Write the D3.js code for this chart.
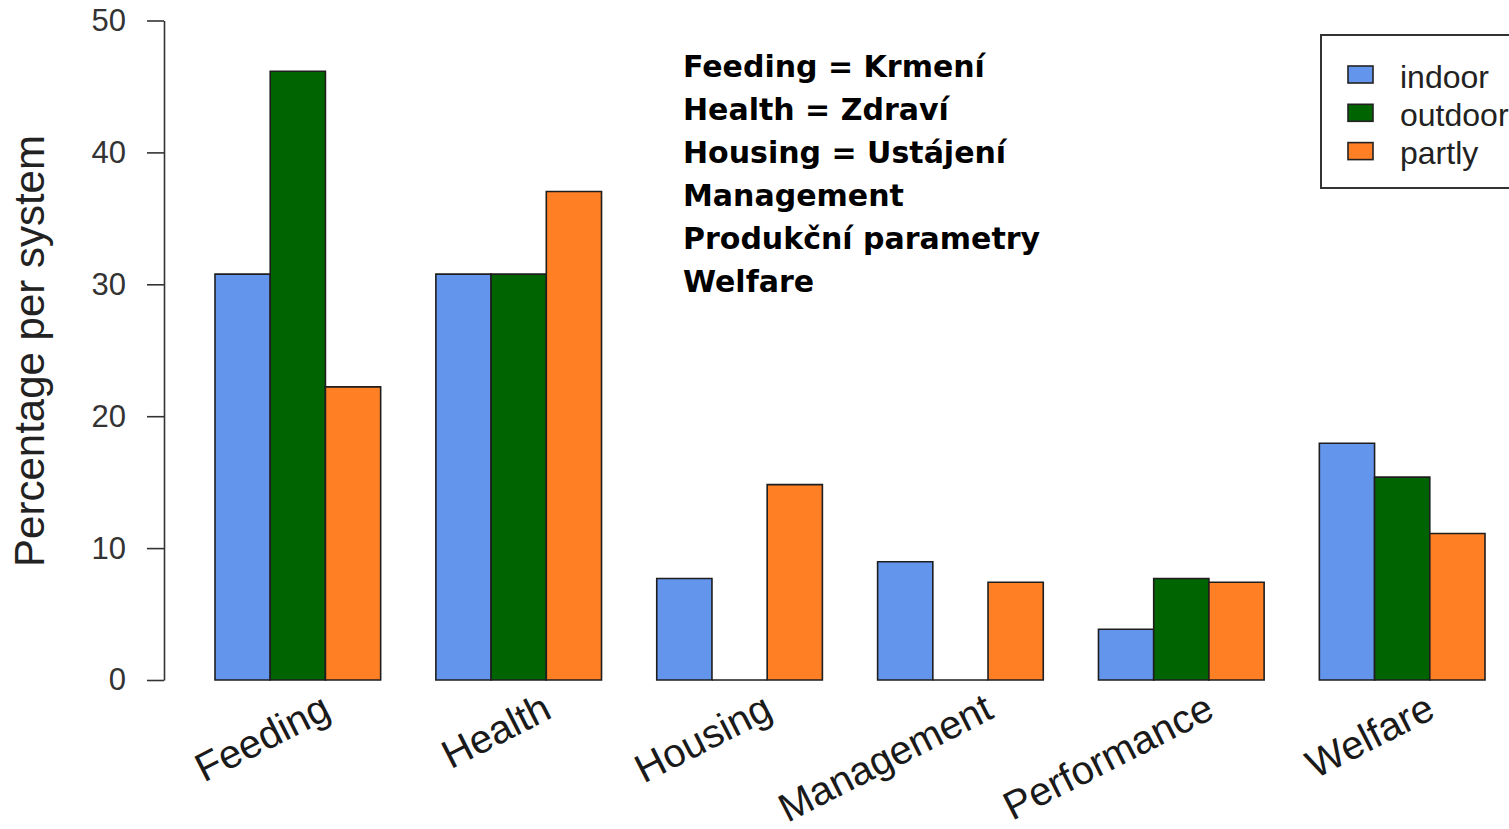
<!DOCTYPE html>
<html>
<head>
<meta charset="utf-8">
<script src="https://cdn.jsdelivr.net/npm/d3@7"></script>
<style>
  html, body { margin: 0; padding: 0; background: #fff; overflow: hidden; }
  svg { display: block; }
</style>
</head>
<body>
<svg id="chart" width="1509" height="829"></svg>
<script>
// ---- data ----
const categories = ["Feeding", "Health", "Housing", "Management", "Performance", "Welfare"];
const seriesNames = ["indoor", "outdoor", "partly"];
const indoor  = [30.77, 30.77, 7.69, 8.97, 3.85, 17.95];
const outdoor = [46.15, 30.77, 0,    0,    7.69, 15.38];
const partly  = [22.22, 37.04, 14.81, 7.41, 7.41, 11.11];
const yTicks = [0, 10, 20, 30, 40, 50];
const yTitle = "Percentage per system";
const noteLines = [
  "Feeding = Krmení",
  "Health = Zdraví",
  "Housing = Ustájení",
  "Management",
  "Produkční parametry",
  "Welfare"
];
const colors = { indoor: "#6495ED", outdoor: "#006400", partly: "#FF7F24" };

// ---- layout ----
const svg = d3.select("#chart");
const seriesValues = { indoor, outdoor, partly };

const x = d3.scaleBand().domain(categories).range([215, 1485]).paddingInner(0.25).paddingOuter(0);
const xs = d3.scaleBand().domain(seriesNames).range([0, x.bandwidth()]).padding(0);
const y = d3.scaleLinear().domain([0, 50]).range([680, 20.5]);

// bars (paths so that zero-height bars still show their outline)
const barData = [];
categories.forEach((c, i) => {
  seriesNames.forEach(s => barData.push({ cat: c, series: s, value: seriesValues[s][i] }));
});
svg.append("g").selectAll("path").data(barData).join("path")
  .attr("d", d => {
    const x0 = x(d.cat) + xs(d.series), x1 = x0 + xs.bandwidth();
    const y0 = y(0), y1 = y(d.value);
    return `M${x0},${y0}V${y1}H${x1}V${y0}Z`;
  })
  .attr("fill", d => colors[d.series])
  .attr("stroke", "#1e1e1e")
  .attr("stroke-width", 1.6);

// y axis
const yAxis = svg.append("g")
  .attr("transform", "translate(164,0)")
  .call(d3.axisLeft(y).tickValues(yTicks).tickSize(17).tickSizeOuter(0).tickPadding(21));
yAxis.select(".domain").attr("stroke", "#333").attr("stroke-width", 1.6);
yAxis.selectAll(".tick line").attr("stroke", "#333").attr("stroke-width", 1.6);
yAxis.selectAll(".tick text")
  .attr("fill", "#333")
  .style("font-family", "'Liberation Sans', Arial, sans-serif")
  .style("font-size", "31px");

// y title
svg.append("text")
  .attr("transform", "translate(44,351) rotate(-90)")
  .attr("text-anchor", "middle")
  .attr("fill", "#222")
  .style("font-family", "'Liberation Sans', Arial, sans-serif")
  .style("font-size", "42px")
  .text(yTitle);

// x category labels (rotated)
svg.append("g").selectAll("text").data(categories).join("text")
  .attr("transform", d => `translate(${x(d) + x.bandwidth() / 2 + 35},717) rotate(-27)`)
  .attr("text-anchor", "end")
  .attr("fill", "#1a1a1a")
  .style("font-family", "'Liberation Sans', Arial, sans-serif")
  .style("font-size", "40px")
  .text(d => d);

// legend
const lg = svg.append("g");
lg.append("rect")
  .attr("x", 1321).attr("y", 35).attr("width", 220).attr("height", 153)
  .attr("fill", "#fff").attr("stroke", "#333").attr("stroke-width", 2);
const rows = lg.selectAll("g.row").data(seriesNames).join("g").attr("class", "row")
  .attr("transform", (d, i) => `translate(0,${74.5 + i * 38.3})`);
rows.append("rect")
  .attr("x", 1348).attr("y", -8.5).attr("width", 25).attr("height", 17)
  .attr("fill", d => colors[d]).attr("stroke", "#222").attr("stroke-width", 1.6);
rows.append("text")
  .attr("x", 1400).attr("y", 13)
  .attr("fill", "#222")
  .style("font-family", "'Liberation Sans', Arial, sans-serif")
  .style("font-size", "32px")
  .text(d => d);

// annotation
svg.append("g").selectAll("text").data(noteLines).join("text")
  .attr("x", 683)
  .attr("y", (d, i) => 77 + i * 43)
  .attr("fill", "#000")
  .style("font-family", "'DejaVu Sans', sans-serif")
  .style("font-weight", "bold")
  .style("font-size", "30px")
  .text(d => d);
</script>
</body>
</html>
